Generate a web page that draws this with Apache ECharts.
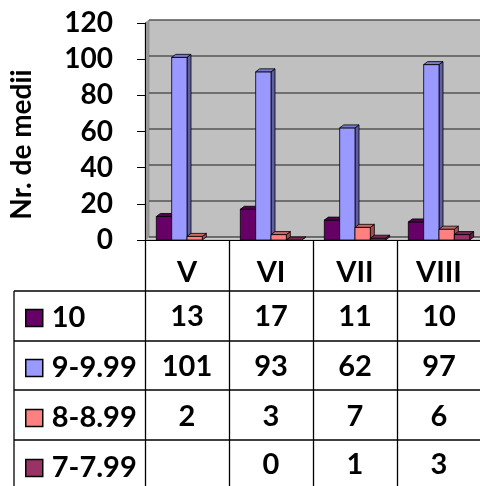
<!DOCTYPE html>
<html><head><meta charset="utf-8">
<script src="https://cdn.jsdelivr.net/npm/echarts@6/dist/echarts.min.js"></script>
<style>html,body{margin:0;padding:0;background:#fff}#c{width:480px;height:486px}</style>
</head><body><div id="c"></div>
<script>
const categories = ['V', 'VI', 'VII', 'VIII'];
const seriesNames = ['10', '9-9.99', '8-8.99', '7-7.99'];
const s10 = [13, 17, 11, 10];
const s9 = [101, 93, 62, 97];
const s8 = [2, 3, 7, 6];
const s7 = [null, 0, 1, 3];
const yTicks = [0, 20, 40, 60, 80, 100, 120];

const allSeries = [s10, s9, s8, s7];
const colors = ['#660066', '#9999ff', '#ff8080', '#993366'];
const FONT = 'Lato, sans-serif';
const FS = 29;
const GAP = 0.27, DX = 4, DY = 3;

function shade(hex, f) {
  const n = parseInt(hex.slice(1), 16);
  const r = Math.round(((n >> 16) & 255) * f), g = Math.round(((n >> 8) & 255) * f), b = Math.round((n & 255) * f);
  return 'rgb(' + r + ',' + g + ',' + b + ')';
}

function makeRender(si) {
  return function (params, api) {
    const v = api.value(1);
    if (v == null || isNaN(v)) return;
    const ci = api.value(0);
    const base = api.coord([ci, 0]);
    const top = api.coord([ci, v]);
    const band = api.size([1, 0])[0];
    const bw = band * (1 - GAP) / allSeries.length;
    const x0 = base[0] - band * (1 - GAP) / 2 + si * bw;
    const x1 = x0 + bw, ty = top[1], by = base[1];
    const c = colors[si];
    const st = { stroke: '#000', lineWidth: 0.8 };
    return {
      type: 'group',
      children: [
        { type: 'polygon', shape: { points: [[x1, ty], [x1 + DX, ty - DY], [x1 + DX, by - DY], [x1, by]] }, style: Object.assign({ fill: shade(c, 0.62) }, st) },
        { type: 'rect', shape: { x: x0, y: ty, width: bw, height: by - ty }, style: Object.assign({ fill: c }, st) },
        { type: 'polygon', shape: { points: [[x0, ty], [x0 + DX, ty - DY], [x1 + DX, ty - DY], [x1, ty]] }, style: Object.assign({ fill: shade(c, 0.8) }, st) }
      ]
    };
  };
}

const rowCenters = [317, 367, 417, 465];
const axisY = 240;

const xAxes = [{
  type: 'category', data: categories, gridIndex: 0, position: 'bottom',
  axisLine: { show: true, lineStyle: { color: '#000', width: 1 } },
  axisTick: { show: true, length: 246, lineStyle: { color: '#000', width: 1.3 } },
  axisLabel: { margin: 33, verticalAlign: 'middle', fontFamily: FONT, fontWeight: 'bold', fontSize: FS, color: '#000' }
}];
allSeries.forEach(function (arr, i) {
  xAxes.push({
    type: 'category', gridIndex: 0, position: 'bottom', offset: rowCenters[i] - axisY,
    data: arr.map(function (v) { return v == null ? '' : String(v); }),
    axisLine: { show: false }, axisTick: { show: false },
    axisLabel: { margin: 0, verticalAlign: 'middle', fontFamily: FONT, fontWeight: 'bold', fontSize: FS, color: '#000' }
  });
});
xAxes.push({ type: 'category', data: categories, gridIndex: 1, show: false });

const tableLines = [291, 341, 390, 440].map(function (y) {
  return { type: 'line', shape: { x1: 14, y1: y, x2: 480, y2: y }, style: { stroke: '#000', lineWidth: 1.3 }, z: 10 };
});
tableLines.push({ type: 'line', shape: { x1: 14, y1: 291, x2: 14, y2: 486 }, style: { stroke: '#000', lineWidth: 1.3 }, z: 10 });
tableLines.push({ type: 'polygon', shape: { points: [[145, 23], [149, 20], [149, 237], [145, 240]] }, style: { fill: '#9a9a9a', stroke: '#777', lineWidth: 0.5 }, z: 0 });
tableLines.push({ type: 'polygon', shape: { points: [[145, 240], [149, 237], [481, 237], [481, 240]] }, style: { fill: '#d0d0d0', stroke: '#777', lineWidth: 0.5 }, z: 0 });

const option = {
  animation: false,
  backgroundColor: '#fff',
  grid: [
    { left: 145, right: -1, top: 23, bottom: 246, containLabel: false, outerBoundsMode: 'none' },
    { left: 149, right: -5, top: 20, bottom: 249, show: true, backgroundColor: '#c0c0c0', borderWidth: 0, z: 0, outerBoundsMode: 'none' }
  ],
  legend: {
    orient: 'vertical', left: 25, top: 293, height: 240, padding: 0, itemGap: 0, itemWidth: 17, itemHeight: 17,
    icon: 'rect', data: seriesNames,
    itemStyle: { borderColor: '#000', borderWidth: 1.5 },
    textStyle: { fontFamily: FONT, fontWeight: 'bold', fontSize: FS, color: '#000', lineHeight: 50, padding: [0, 0, 0, 4] }
  },
  xAxis: xAxes,
  yAxis: [{
    type: 'value', gridIndex: 0, min: 0, max: 120, interval: 20,
    name: 'Nr. de medii', nameLocation: 'middle', nameGap: 109, nameRotate: 90,
    nameTextStyle: { fontFamily: FONT, fontWeight: 'bold', fontSize: FS - 1, color: '#000', padding: [0, 26, 0, 0] },
    axisLine: { show: true, lineStyle: { color: '#000', width: 1 } },
    axisTick: { show: true, length: 8, lineStyle: { color: '#000' } },
    axisLabel: { margin: 32, fontFamily: FONT, fontWeight: 'bold', fontSize: FS - 1, color: '#000',
      formatter: function (v) { return yTicks.indexOf(v) >= 0 ? String(v) : ''; } },
    splitLine: { show: false }
  }, {
    type: 'value', gridIndex: 1, min: 0, max: 120, interval: 20,
    axisLine: { show: false }, axisTick: { show: false }, axisLabel: { show: false },
    splitLine: { show: true, lineStyle: { color: '#555', width: 1.5 } }
  }],
  graphic: tableLines,
  series: allSeries.map(function (arr, i) {
    return {
      type: 'custom', name: seriesNames[i], xAxisIndex: 0, yAxisIndex: 0,
      itemStyle: { color: colors[i] },
      renderItem: makeRender(i),
      data: arr.map(function (v, ci) { return [ci, v == null ? '-' : v]; }),
      encode: { x: 0, y: 1 }, z: 5
    };
  })
};
const chart = echarts.init(document.getElementById('c'), null, { renderer: 'canvas' });
chart.setOption(option);
</script></body></html>
